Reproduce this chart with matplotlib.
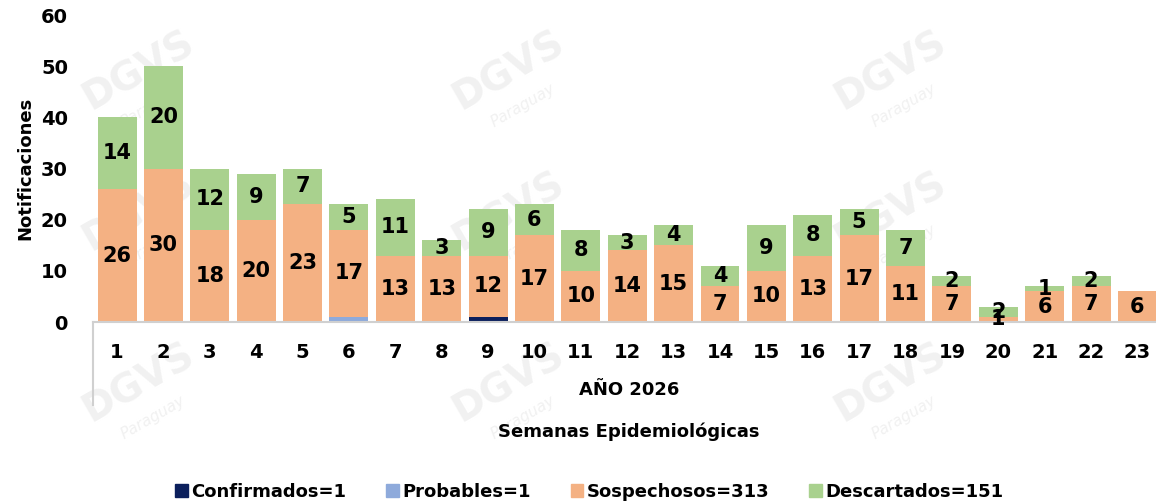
import numpy as np
import matplotlib.pyplot as plt
from matplotlib.patches import Patch
from matplotlib.lines import Line2D

# data
semanas = [str(i) for i in range(1, 24)]
confirmados = [0, 0, 0, 0, 0, 0, 0, 0, 1, 0, 0, 0, 0, 0, 0, 0, 0, 0, 0, 0, 0, 0, 0]
probables = [0, 0, 0, 0, 0, 1, 0, 0, 0, 0, 0, 0, 0, 0, 0, 0, 0, 0, 0, 0, 0, 0, 0]
sospechosos = [26, 30, 18, 20, 23, 17, 13, 13, 12, 17, 10, 14, 15, 7, 10, 13, 17, 11, 7, 1, 6, 7, 6]
descartados = [14, 20, 12, 9, 7, 5, 11, 3, 9, 6, 8, 3, 4, 4, 9, 8, 5, 7, 2, 2, 1, 2, 0]

col_conf = '#0b1f5c'
col_prob = '#8eaadb'
col_sosp = '#f4b183'
col_desc = '#a9d18e'

plt.rcParams['font.family'] = ['DejaVu Sans']
plt.rcParams['font.weight'] = 'bold'

fig = plt.figure(figsize=(11.56, 5.03), dpi=100)
ax = fig.add_axes([0.0804, 0.3598, 0.9196, 0.6103])
ax.patch.set_visible(False)

# faint watermark, kept inside the figure
for wx in [0.12, 0.44, 0.77]:
    for wy in [0.86, 0.58, 0.24]:
        fig.text(wx, wy, 'DGVS', fontsize=28, color='#f1f1f1', rotation=30,
                 ha='center', va='center', zorder=-2, fontweight='bold')
        fig.text(wx + 0.012, wy - 0.07, 'Paraguay', fontsize=11, color='#f1f1f1',
                 rotation=30, ha='center', va='center', zorder=-2,
                 fontstyle='italic', fontweight='normal')

x = np.arange(1, len(semanas) + 1)
w = 0.84
conf = np.array(confirmados)
prob = np.array(probables)
sosp = np.array(sospechosos)
desc = np.array(descartados)

base = conf + prob
ax.bar(x, conf, w, color=col_conf, zorder=2)
ax.bar(x, prob, w, bottom=conf, color=col_prob, zorder=2)
ax.bar(x, sosp, w, bottom=base, color=col_sosp, zorder=2)
ax.bar(x, desc, w, bottom=base + sosp, color=col_desc, zorder=2)

for xi, b, s, d in zip(x, base, sosp, desc):
    ax.text(xi, b + s / 2, str(s), ha='center', va='center', fontsize=15,
            fontweight='bold', color='black', zorder=4)
    if d > 0:
        ax.text(xi, b + s + d / 2, str(d), ha='center', va='center', fontsize=15,
                fontweight='bold', color='black', zorder=4)

ax.set_xlim(0.48, 23.4)
ax.set_ylim(0, 60)
ax.set_yticks(range(0, 61, 10))
ax.set_xticks(x)
ax.set_xticklabels(semanas)
ax.tick_params(axis='both', length=0, labelsize=14)
ax.tick_params(axis='x', pad=15)
ax.tick_params(axis='y', pad=18)
for s in ['top', 'right', 'left']:
    ax.spines[s].set_visible(False)
ax.spines['bottom'].set_color('#d0d0d0')
ax.spines['bottom'].set_linewidth(1.5)

# left edge of category box
fig.add_artist(Line2D([0.0804, 0.0804], [0.3598, 0.195], color='#d0d0d0', lw=1.5))

ax.set_ylabel('Notificaciones', fontsize=13, fontweight='bold')
ax.yaxis.set_label_coords(-0.055, 0.5)

fig.text(0.544, 0.225, 'AÑO 2026', ha='center', va='center', fontsize=13, fontweight='bold')
fig.text(0.544, 0.141, 'Semanas Epidemiológicas', ha='center', va='center', fontsize=13, fontweight='bold')

handles = [Patch(color=col_conf), Patch(color=col_prob), Patch(color=col_sosp), Patch(color=col_desc)]
labels = ['Confirmados=1', 'Probables=1', 'Sospechosos=313', 'Descartados=151']
fig.legend(handles, labels, loc='center', bbox_to_anchor=(0.51, 0.022), ncol=4,
           frameon=False, fontsize=13, handlelength=0.7, handleheight=0.7,
           handletextpad=0.2, columnspacing=2.2)

fig.savefig('out.png', dpi=100)
